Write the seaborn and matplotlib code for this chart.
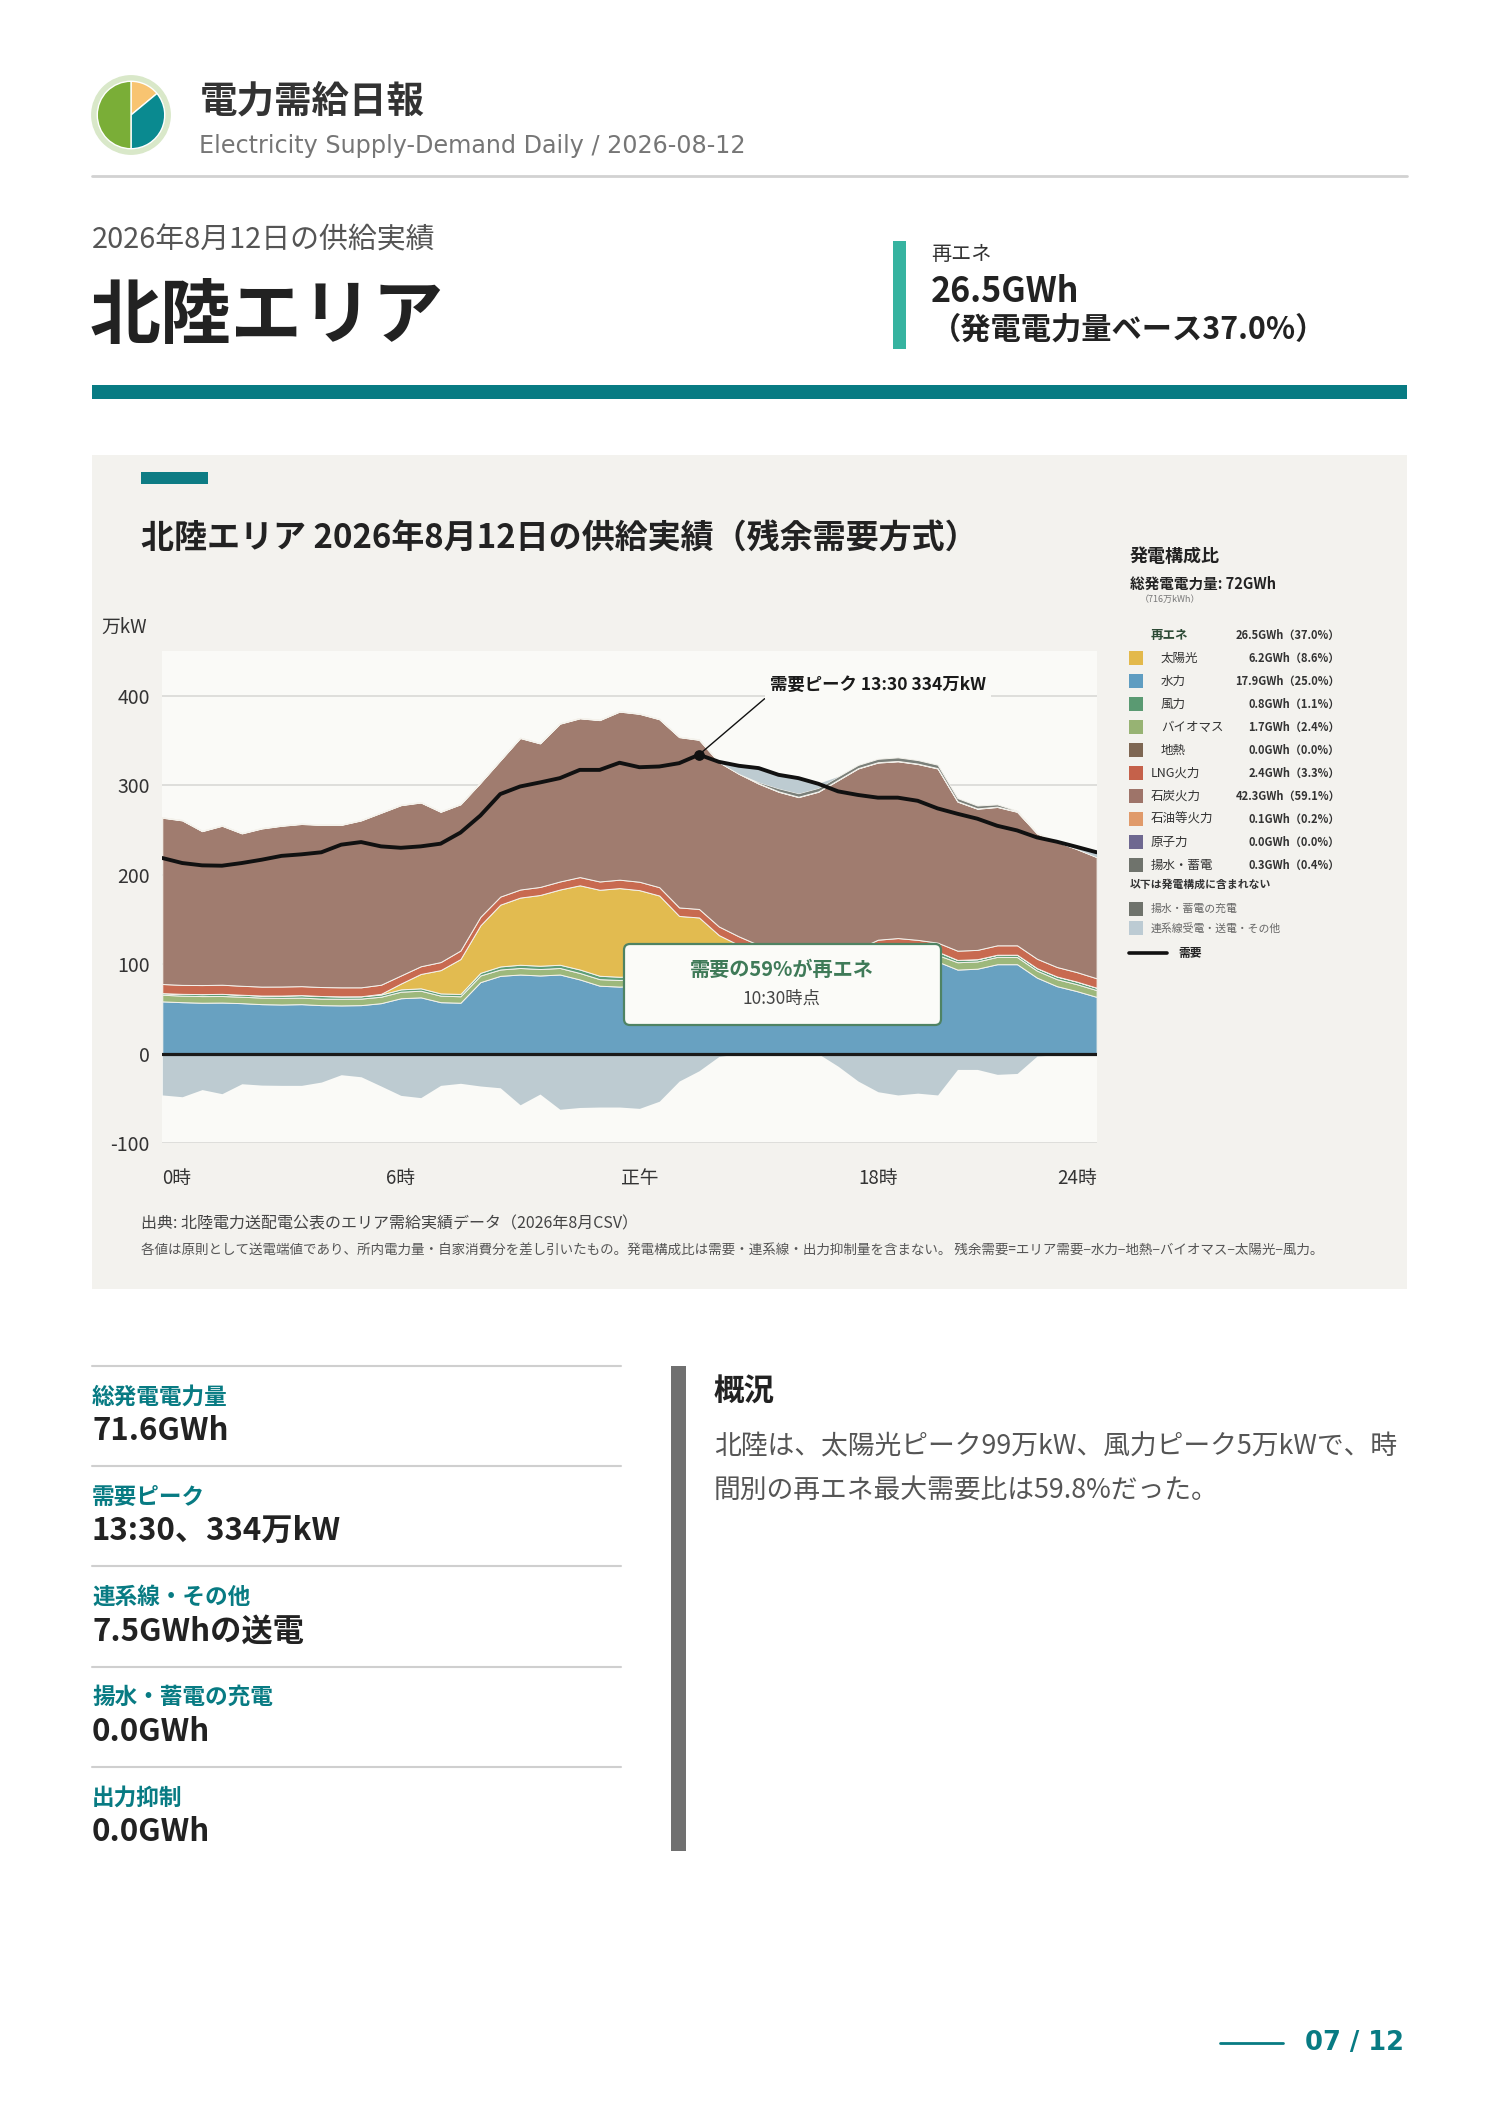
import numpy as np
import pandas as pd
import matplotlib
matplotlib.use("Agg")
import matplotlib.pyplot as plt
import seaborn as sns
from matplotlib.patches import Rectangle, FancyBboxPatch, Circle

# ---------------- data : 万kW, 30-minute steps (00:00 ... 23:30) ----------------
hydro = [58.5, 57.6, 57.0, 57.2, 56.5, 55.4, 55.0, 55.4, 54.3, 54.0, 54.3, 56.5,
         62.0, 63.0, 57.6, 57.0, 80.0, 87.0, 88.5, 87.4, 88.5, 83.0, 76.0, 75.0,
         76.0, 76.0, 76.0, 76.0, 77.0, 77.0, 78.0, 79.0, 80.0, 82.0, 85.0, 95.0,
         106.0, 108.0, 106.0, 103.0, 94.0, 95.0, 100.0, 100.0, 85.0, 75.5, 70.0, 63.5]
biomass = [7.4, 7.3, 7.4, 7.3, 7.2, 7.3, 7.4, 7.3, 7.3, 7.4, 7.3, 7.2,
           7.3, 7.4, 7.3, 7.2, 7.4, 7.1, 7.3, 7.2, 7.3, 7.2, 7.3, 7.4,
           7.2, 7.3, 7.2, 7.3, 7.3, 7.1, 7.2, 7.3, 7.2, 7.2, 7.3, 7.1,
           7.3, 7.2, 7.3, 7.3, 8.2, 8.1, 8.2, 8.0, 7.8, 7.8, 7.7, 7.6]
wind = [1.8, 2.0, 2.2, 2.4, 2.2, 2.3, 2.6, 2.8, 2.9, 2.7, 2.6, 2.4,
        2.6, 2.7, 2.5, 2.6, 3.0, 3.4, 3.6, 3.7, 3.6, 3.9, 3.8, 3.6,
        3.5, 3.4, 3.7, 3.9, 4.2, 4.4, 4.6, 4.8, 5.0, 4.9, 4.7, 4.5,
        4.3, 4.2, 4.0, 3.8, 2.6, 2.5, 2.4, 2.6, 2.8, 3.0, 2.9, 2.7]
solar = [0, 0, 0, 0, 0, 0, 0, 0, 0, 0, 0, 0.8,
         6.5, 16.0, 26.0, 39.0, 53.0, 69.0, 75.0, 79.0, 84.0, 94.0, 96.0, 99.0,
         96.0, 90.0, 67.0, 65.0, 44.0, 33.0, 22.0, 14.0, 8.5, 4.5, 2.0, 0.8,
         0, 0, 0, 0, 0, 0, 0, 0, 0, 0, 0, 0]
lng = [10.2, 10.0, 10.1, 10.2, 10.0, 10.0, 10.1, 10.0, 10.0, 10.1, 10.0, 10.2,
       9.0, 8.6, 9.0, 9.5, 9.5, 9.0, 9.0, 9.0, 9.0, 9.2, 9.3, 9.4,
       9.4, 9.3, 9.5, 9.5, 9.6, 9.6, 9.7, 9.8, 9.8, 9.9, 9.8, 9.8,
       9.8, 9.8, 9.9, 10.0, 10.3, 10.4, 10.5, 10.5, 10.5, 10.6, 10.6, 10.5]
coal = [185.7, 183.7, 171.9, 177.5, 170.2, 176.6, 179.5, 181.1, 181.1, 181.4, 186.4, 192.0,
        190.2, 182.9, 167.8, 163.3, 149.7, 152.1, 169.2, 160.3, 176.2, 177.3, 180.2, 187.7,
        187.5, 187.6, 190.2, 188.9, 183.5, 181.5, 180.1, 177.7, 176.1, 184.1, 196.8, 201.4,
        197.8, 197.4, 196.4, 194.5, 166.5, 157.6, 154.5, 149.1, 140.0, 139.7, 137.4, 135.3]
oil = [0.4, 0.4, 0.4, 0.4, 0.4, 0.4, 0.4, 0.4, 0.4, 0.4, 0.4, 0.4,
       0.4, 0.4, 0.4, 0.4, 0.4, 0.4, 0.4, 0.4, 0.4, 0.4, 0.4, 0.4,
       0.4, 0.4, 0.4, 0.4, 0.4, 0.4, 0.4, 0.4, 0.4, 0.4, 0.4, 0.4,
       0.4, 0.4, 0.4, 0.4, 0.4, 0.4, 0.4, 0.4, 0.4, 0.4, 0.4, 0.4]
pumped = [0, 0, 0, 0, 0, 0, 0, 0, 0, 0, 0, 0,
          0, 0, 0, 0, 0, 0, 0, 0, 0, 0, 0, 0,
          0, 0, 0, 0, 0, 0, 1.5, 3.5, 4.0, 4.0, 3.8, 3.6,
          3.8, 4.0, 4.0, 3.8, 3.5, 3.2, 2.5, 0.8, 0, 0, 0, 0]
interconnect = [-46.0, -48.0, -40.0, -44.6, -33.5, -35.0, -35.3, -35.3, -31.6, -23.4, -25.7, -36.0,
                -46.5, -49.0, -35.3, -33.0, -36.0, -38.0, -57.0, -45.0, -62.0, -60.0, -59.5, -59.5,
                -61.0, -53.0, -30.5, -19.0, -3.0, 8.5, 15.5, 15.0, 17.0, 5.0, -14.0, -30.5,
                -42.4, -46.0, -44.0, -46.0, -17.5, -17.5, -23.0, -22.0, -2.6, -1.0, 1.5, 5.0]
demand = [218.6, 213.0, 210.4, 210.0, 213.0, 216.7, 221.0, 222.7, 225.0, 233.5, 236.4, 231.6,
          230.0, 231.6, 234.6, 247.0, 266.0, 290.0, 298.5, 303.0, 307.8, 317.0, 317.0, 325.0,
          320.0, 320.8, 324.5, 334.0, 326.0, 321.6, 319.0, 311.5, 307.8, 301.5, 293.0, 289.0,
          286.0, 286.0, 282.5, 274.0, 268.0, 262.5, 254.6, 249.4, 241.6, 236.8, 231.0, 225.0]

x_tick_hours = [0, 6, 12, 18, 23.5]
x_tick_labels = ["0時", "6時", "正午", "18時", "24時"]
y_ticks = [-100, 0, 100, 200, 300, 400]

legend_labels = ["太陽光", "水力", "風力", "バイオマス", "地熱", "LNG火力", "石炭火力",
                 "石油等火力", "原子力", "揚水・蓄電"]
legend_values = ["6.2GWh（8.6%）", "17.9GWh（25.0%）", "0.8GWh（1.1%）", "1.7GWh（2.4%）",
                 "0.0GWh（0.0%）", "2.4GWh（3.3%）", "42.3GWh（59.1%）", "0.1GWh（0.2%）",
                 "0.0GWh（0.0%）", "0.3GWh（0.4%）"]
legend_colors = ["#e3b94b", "#5f9dc1", "#5a9a72", "#97b373", "#7e6753", "#c5614a",
                 "#9e7469", "#e09a6a", "#6e6890", "#6f736c"]
legend_sub = [True, True, True, True, True, False, False, False, False, False]

kpi_labels = ["総発電電力量", "需要ピーク", "連系線・その他", "揚水・蓄電の充電", "出力抑制"]
kpi_values = ["71.6GWh", "13:30、334万kW", "7.5GWhの送電", "0.0GWh", "0.0GWh"]

# ---------------- style ----------------
sns.set_theme(style="white")
plt.rcParams["font.family"] = ["Noto Sans CJK JP", "DejaVu Sans"]
plt.rcParams["axes.unicode_minus"] = False

W, H = 1488, 2105
fig = plt.figure(figsize=(W / 100, H / 100), dpi=100, facecolor="white")

bg = fig.add_axes([0, 0, 1, 1], zorder=0)
bg.set_xlim(0, W); bg.set_ylim(H, 0); bg.axis("off")
top = fig.add_axes([0, 0, 1, 1], zorder=5)
top.set_xlim(0, W); top.set_ylim(H, 0); top.axis("off")

TEAL = "#087b83"

# ---------------- header ----------------
lg = fig.add_axes([(131 - 40) / W, 1 - (115 + 40) / H, 80 / W, 80 / H], zorder=3)
lg.add_patch(Circle((0, 0), 1.0, color="#d9e8c9"))
lg.pie([14, 36, 50], colors=["#f8c471", "#0a8a90", "#7aae37"], startangle=90,
       counterclock=False, radius=0.86)
lg.set_xlim(-1.02, 1.02); lg.set_ylim(-1.02, 1.02); lg.set_aspect("equal"); lg.axis("off")

bg.text(200, 101, "電力需給日報", fontsize=27, fontweight="bold", color="#333333", va="center")
bg.text(199, 146, "Electricity Supply-Demand Daily / 2026-08-12", fontsize=17.2,
        color="#767676", va="center", family=["DejaVu Sans"])
bg.plot([92, 1407], [176, 176], color="#d2d2d2", lw=2)

bg.text(92, 240, "2026年8月12日の供給実績", fontsize=20.8, color="#555555", va="center")
bg.text(90, 317, "北陸エリア", fontsize=51, fontweight="bold", color="#222222", va="center")
bg.add_patch(Rectangle((893, 241), 13, 108, color="#36b3a0", lw=0))
bg.text(931, 255, "再エネ", fontsize=14.5, color="#333333", va="center")
bg.text(931, 291, "26.5GWh", fontsize=24.5, fontweight="bold", color="#222222", va="center")
bg.text(931, 330, "（発電電力量ベース37.0%）", fontsize=21.8, fontweight="bold",
        color="#222222", va="center")
bg.add_patch(Rectangle((92, 385), 1315, 14, color=TEAL, lw=0))

# ---------------- chart panel ----------------
bg.add_patch(Rectangle((92, 455), 1315, 834, color="#f3f2ee", lw=0))
bg.add_patch(Rectangle((141, 472), 67, 12, color="#0d7c84", lw=0))
bg.text(141, 538, "北陸エリア 2026年8月12日の供給実績（残余需要方式）", fontsize=23.8,
        fontweight="bold", color="#222222", va="center")
bg.text(101, 627, "万kW", fontsize=13.5, color="#333333", va="center")
bg.text(141, 1224, "出典: 北陸電力送配電公表のエリア需給実績データ（2026年8月CSV）",
        fontsize=11.5, color="#444444", va="center")
bg.text(141, 1251, "各値は原則として送電端値であり、所内電力量・自家消費分を差し引いたもの。"
        "発電構成比は需要・連系線・出力抑制量を含まない。 残余需要=エリア需要−水力−地熱−バイオマス−太陽光−風力。",
        fontsize=9.75, color="#555555", va="center")

L, R, T, B = 162.3, 1096.6, 650.8, 1143.3
ax = fig.add_axes([L / W, 1 - B / H, (R - L) / W, (B - T) / H], zorder=2)
ax.set_facecolor("#fafaf7")

hours = np.arange(len(demand)) / 2
layers = [hydro, biomass, wind, solar, lng, coal, oil, pumped]
layer_colors = ["#68a1c1", "#9db87c", "#5e9e78", "#e2bb50", "#c86a50", "#a07c6f",
                "#e09a6a", "#7a7f79"]
ax.stackplot(hours, *layers, colors=layer_colors, edgecolor="#f4f2ec", linewidth=0.7,
             zorder=2)
gen_total = np.sum(np.array(layers), axis=0)
ic = np.array(interconnect)
ax.fill_between(hours, np.minimum(ic, 0), 0, color="#bdcbd1", lw=0, zorder=2)
ax.fill_between(hours, gen_total, gen_total + np.maximum(ic, 0), color="#bdcbd1", lw=0,
                zorder=2)

ax.axhline(0, color="#1a1a1a", lw=2.3, zorder=5)
sns.lineplot(x=hours, y=demand, ax=ax, color="#111111", lw=2.8, zorder=6)

pk = int(np.argmax(demand))
ax.scatter([hours[pk]], [demand[pk]], s=45, color="#111111", zorder=7)
ax.annotate("需要ピーク 13:30 334万kW", xy=(hours[pk], demand[pk]), xytext=(51, 50),
            textcoords="offset points", ha="left", va="center", fontsize=12.5,
            fontweight="bold", color="#1a1a1a",
            bbox=dict(boxstyle="square,pad=0.3", fc="#fafaf7", ec="none"),
            arrowprops=dict(arrowstyle="-", color="#111111", lw=1.0, relpos=(0, 0),
                            shrinkA=0, shrinkB=0), zorder=8)

ax.set_xlim(0, 23.5)
ax.set_ylim(-100, 450)
ax.set_yticks(y_ticks)
ax.set_xticks(x_tick_hours, x_tick_labels)
ax.grid(axis="y", color="#dcdcd8", lw=1.3)
ax.grid(axis="x", visible=False)
ax.set_axisbelow(True)
for s in ax.spines.values():
    s.set_visible(False)
ax.tick_params(axis="y", length=0, pad=9, labelsize=14, labelcolor="#333333")
ax.tick_params(axis="x", length=0, pad=17.5, labelsize=13.5, labelcolor="#333333")
xl = ax.get_xticklabels()
xl[0].set_ha("left")
xl[-1].set_ha("right")
ax.set_xlabel("")
ax.set_ylabel("")

# annotation box
top.add_patch(FancyBboxPatch((624, 944), 317, 81, boxstyle="round,pad=0,rounding_size=6",
                             fc="#fbfbf8", ec="#4f8363", lw=1.6))
top.text(782, 969, "需要の59%が再エネ", fontsize=14.5, fontweight="bold", color="#3f7a58",
         ha="center", va="center")
top.text(782, 999, "10:30時点", fontsize=12.5, color="#444444", ha="center", va="center")

# ---------------- legend panel ----------------
top.text(1130, 557, "発電構成比", fontsize=13, fontweight="bold", color="#222222", va="center")
top.text(1130, 584, "総発電電力量: 72GWh", fontsize=10.5, fontweight="bold", color="#222222",
         va="center")
top.text(1140, 599, "（716万kWh）", fontsize=6.5, color="#777777", va="center")
top.text(1151, 635, "再エネ", fontsize=9, fontweight="bold", color="#2c4a35", va="center")
top.text(1340, 635, "26.5GWh（37.0%）", fontsize=8, fontweight="bold", color="#333333",
         ha="right", va="center")
for k, (lab, val, col, sub) in enumerate(zip(legend_labels, legend_values, legend_colors,
                                             legend_sub)):
    yy = 658 + 23 * k
    top.add_patch(Rectangle((1129, yy - 7), 14, 14, color=col, lw=0))
    top.text(1161 if sub else 1151, yy, lab, fontsize=9, color="#333333", va="center")
    top.text(1340, yy, val, fontsize=8, fontweight="bold", color="#333333", ha="right",
             va="center")
top.text(1130, 884, "以下は発電構成に含まれない", fontsize=7.8, fontweight="bold",
         color="#333333", va="center")
top.add_patch(Rectangle((1129, 902), 14, 14, color="#6f736c", lw=0))
top.text(1151, 909, "揚水・蓄電の充電", fontsize=7.8, color="#666666", va="center")
top.add_patch(Rectangle((1129, 921), 14, 14, color="#bccbd3", lw=0))
top.text(1151, 928, "連系線受電・送電・その他", fontsize=7.8, color="#666666", va="center")
top.plot([1129, 1167], [953, 953], color="#111111", lw=2.6)
top.text(1178, 953, "需要", fontsize=8.5, fontweight="bold", color="#222222", va="center")

# ---------------- KPI block ----------------
for k, (lab, val) in enumerate(zip(kpi_labels, kpi_values)):
    y0 = 1366 + 100.2 * k
    bg.plot([92, 621], [y0, y0], color="#cfcfcf", lw=1.5)
    bg.text(92, y0 + 31, lab, fontsize=16.3, fontweight="bold", color=TEAL, va="center")
    bg.text(92, y0 + 65, val, fontsize=22.5, fontweight="bold", color="#222222", va="center")

bg.add_patch(Rectangle((671, 1366), 15, 485, color="#707070", lw=0))
bg.text(714, 1392, "概況", fontsize=22, fontweight="bold", color="#222222", va="center")
bg.text(714, 1447, "北陸は、太陽光ピーク99万kW、風力ピーク5万kWで、時", fontsize=19.3,
        color="#555555", va="center")
bg.text(714, 1490, "間別の再エネ最大需要比は59.8%だった。", fontsize=19.3, color="#555555",
        va="center")

bg.plot([1220, 1283], [2043, 2043], color=TEAL, lw=2)
bg.text(1404, 2043, "07 / 12", fontsize=18.5, fontweight="bold", color=TEAL, ha="right",
        va="center", family=["DejaVu Sans"])

fig.savefig("out.png", dpi=100, facecolor="white")
